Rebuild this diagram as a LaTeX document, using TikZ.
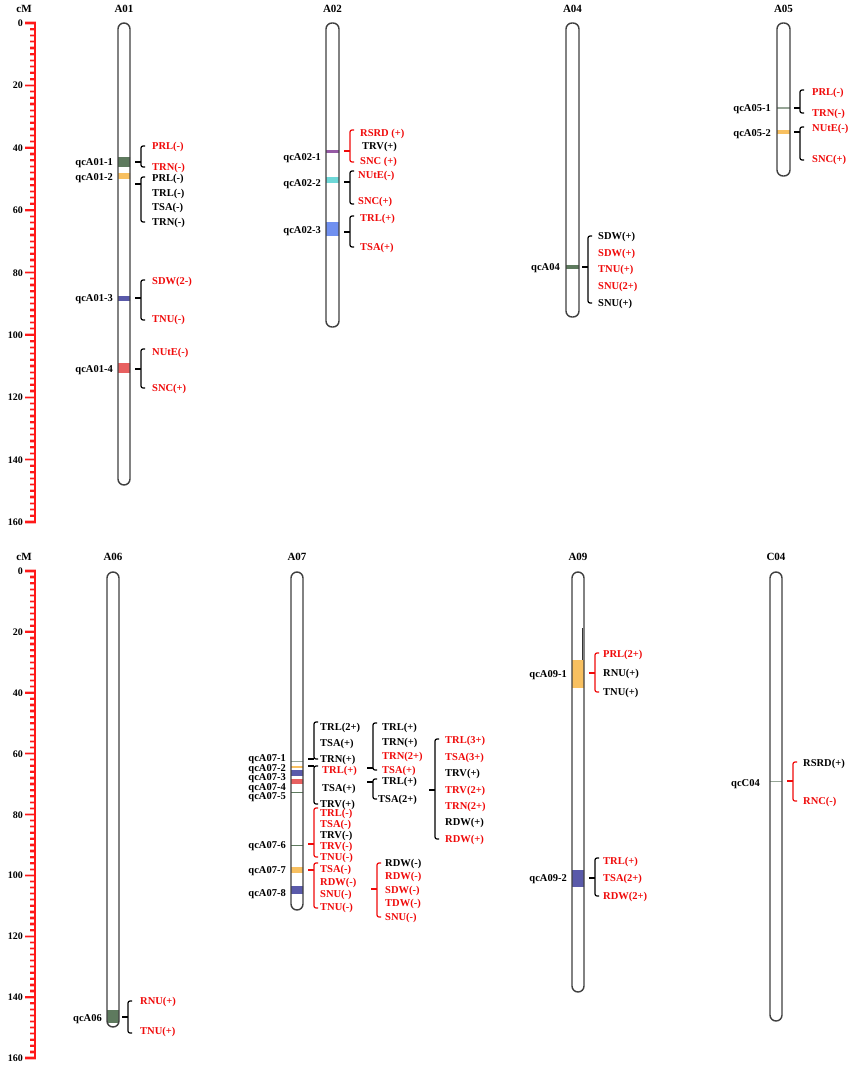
\documentclass[tikz,border=0pt]{standalone}
\usepackage{fontspec}
\setmainfont{Liberation Serif}
\usetikzlibrary{calc}
\definecolor{qred}{RGB}{240,10,10}
\definecolor{bgreen}{RGB}{94,122,94}
\definecolor{borange}{RGB}{248,192,96}
\definecolor{bblue}{RGB}{90,90,170}
\definecolor{bred}{RGB}{232,96,96}
\definecolor{bpurple}{RGB}{150,90,165}
\definecolor{bcyan}{RGB}{110,216,216}
\definecolor{blblue}{RGB}{112,144,240}
\definecolor{bgray}{RGB}{150,165,150}
\tikzset{
  lbl/.style={font=\bfseries\fontsize{10.5}{12}\selectfont, inner sep=0pt, text height=7pt, text depth=0pt},
  qlbl/.style={lbl, anchor=east},
  tlbl/.style={lbl, anchor=west},
  ttl/.style={font=\bfseries\fontsize{11}{13}\selectfont, inner sep=0pt},
  chromline/.style={draw=black!75, line width=1.4pt, rounded corners=6pt},
  brkline/.style={line width=1.2pt, rounded corners=2pt},
  rulerline/.style={draw=red!90, line width=1.6pt},
  tickhalo/.style={draw=red!30, line width=3.2pt},
  tickline/.style={draw=red!90, line width=1.5pt},
}
\newcommand\ruler[3]{% tag, ytop, ybottom
  \pgfmathsetmacro\rstep{(#3-#2)/80}%
  \foreach \i in {0,...,80}{%
    \pgfmathsetmacro\yy{#2+\i*\rstep}%
    \pgfmathtruncatemacro\mm{mod(\i,10)}%
    \ifnum\mm=0
      \draw[tickhalo] (25,\yy) -- (36,\yy);
      \draw[tickline] (25,\yy) -- (36,\yy);
      \pgfmathtruncatemacro\labv{\i*2}%
      \node[anchor=east, font=\bfseries\fontsize{10}{12}\selectfont, inner sep=0pt, text height=7pt, text depth=0pt] (r#1\i) at (23,\yy) {\labv};
    \else
      \draw[tickhalo] (30,\yy) -- (35.5,\yy);
      \draw[tickline] (30,\yy) -- (35.5,\yy);
    \fi
  }%
  \draw[rulerline] (35,#2) -- (35,#3);
}
\newcommand\chromo[5]{% xl, xr, yt, yb, bands
  \begin{scope}
    \clip[rounded corners=6pt] (#1,#3) rectangle (#2,#4);
    \fill[white] (#1,#3) rectangle (#2,#4);
    #5
  \end{scope}
  \draw[chromline] (#1,#3) rectangle (#2,#4);
}
\newcommand\brk[5]{% color, x, y1, y2, ytip
  \draw[brkline,#1] ({#2+4},#3) -- (#2,#3) -- (#2,#4) -- ({#2+4},#4);
  \draw[brkline,#1] ({#2-6},#5) -- (#2,#5);
}
\begin{document}
\begin{tikzpicture}[x=1pt,y=-1pt]
\useasboundingbox (0,0) rectangle (856,1070);
\fill[white] (0,0) rectangle (856,1070);

% rulers
\node[ttl] (cm1) at (24,9) {cM};
\ruler{t}{23}{522}
\node[ttl] (cm2) at (24,557) {cM};
\ruler{b}{571}{1058}

% ===== A01 =====
\node[ttl] (tA01) at (124,9) {A01};
\chromo{118}{130}{23}{485}{%
  \fill[bgreen] (116,157) rectangle (132,167);
  \fill[borange] (116,173) rectangle (132,179);
  \fill[bblue] (116,296) rectangle (132,300.5);
  \fill[bred] (116,363) rectangle (132,373);
}
\node[qlbl] (q011) at (113,162) {qcA01-1};
\node[qlbl] (q012) at (113,177) {qcA01-2};
\node[qlbl] (q013) at (113,298) {qcA01-3};
\node[qlbl] (q014) at (113,369) {qcA01-4};
\brk{black}{141}{146}{167}{162}
\node[tlbl,text=qred] (a1a) at (152,146) {PRL(-)};
\node[tlbl,text=qred] (a1b) at (152,167) {TRN(-)};
\brk{black}{141}{177}{222}{184}
\node[tlbl] (a1c) at (152,178) {PRL(-)};
\node[tlbl] (a1d) at (152,193) {TRL(-)};
\node[tlbl] (a1e) at (152,207) {TSA(-)};
\node[tlbl] (a1f) at (152,222) {TRN(-)};
\brk{black}{141}{280}{320}{298}
\node[tlbl,text=qred] (a1g) at (152,281) {SDW(2-)};
\node[tlbl,text=qred] (a1h) at (152,319) {TNU(-)};
\brk{black}{141}{349}{388}{369}
\node[tlbl,text=qred] (a1i) at (152,352) {NUtE(-)};
\node[tlbl,text=qred] (a1j) at (152,388) {SNC(+)};

% ===== A02 =====
\node[ttl] (tA02) at (332.5,9) {A02};
\chromo{326}{339}{23}{327}{%
  \fill[bpurple] (324,149.5) rectangle (341,152.5);
  \fill[bcyan] (324,177) rectangle (341,183);
  \fill[blblue] (324,222) rectangle (341,236);
}
\node[qlbl] (q021) at (321,157) {qcA02-1};
\node[qlbl] (q022) at (321,183) {qcA02-2};
\node[qlbl] (q023) at (321,230) {qcA02-3};
\brk{qred}{350}{130}{162}{151}
\node[tlbl,text=qred] (a2a) at (360,133) {RSRD (+)};
\node[tlbl] (a2b) at (362,146) {TRV(+)};
\node[tlbl,text=qred] (a2c) at (360,161) {SNC (+)};
\brk{black}{350}{171}{204}{182}
\node[tlbl,text=qred] (a2d) at (358,175) {NUtE(-)};
\node[tlbl,text=qred] (a2e) at (358,201) {SNC(+)};
\brk{black}{350}{216}{247}{232}
\node[tlbl,text=qred] (a2f) at (360,218) {TRL(+)};
\node[tlbl,text=qred] (a2g) at (360,247) {TSA(+)};

% ===== A04 =====
\node[ttl] (tA04) at (572.5,9) {A04};
\chromo{566}{579}{23}{317}{%
  \fill[bgreen] (564,265) rectangle (581,268.5);
}
\node[qlbl] (q04) at (560,267) {qcA04};
\brk{black}{588}{236}{303}{267}
\node[tlbl] (a4a) at (598,236) {SDW(+)};
\node[tlbl,text=qred] (a4b) at (598,253) {SDW(+)};
\node[tlbl,text=qred] (a4c) at (598,269) {TNU(+)};
\node[tlbl,text=qred] (a4d) at (598,286) {SNU(2+)};
\node[tlbl] (a4e) at (598,303) {SNU(+)};

% ===== A05 =====
\node[ttl] (tA05) at (783.5,9) {A05};
\chromo{777}{790}{23}{176}{%
  \fill[bgray] (775,107.3) rectangle (792,108.7);
  \fill[borange] (775,130) rectangle (792,134);
}
\node[qlbl] (q051) at (771,108) {qcA05-1};
\node[qlbl] (q052) at (771,133) {qcA05-2};
\brk{black}{800}{90}{113}{108}
\node[tlbl,text=qred] (a5a) at (812,92) {PRL(-)};
\node[tlbl,text=qred] (a5b) at (812,113) {TRN(-)};
\brk{black}{800}{127}{160}{132}
\node[tlbl,text=qred] (a5c) at (812,128) {NUtE(-)};
\node[tlbl,text=qred] (a5d) at (812,159) {SNC(+)};

% ===== A06 =====
\node[ttl] (tA06) at (113,557) {A06};
\chromo{107}{119}{572}{1027}{%
  \fill[bgreen] (105,1010) rectangle (121,1023);
}
\node[qlbl] (q06) at (102,1018) {qcA06};
\brk{black}{128}{1001}{1033}{1017}
\node[tlbl,text=qred] (a6a) at (140,1001) {RNU(+)};
\node[tlbl,text=qred] (a6b) at (140,1031) {TNU(+)};

% ===== A07 =====
\node[ttl] (tA07) at (297,557) {A07};
\chromo{291}{303}{572}{910}{%
  \fill[bgray] (289,760.5) rectangle (305,761.7);
  \fill[borange] (289,765.8) rectangle (305,768);
  \fill[bblue] (289,770) rectangle (305,775.5);
  \fill[bred] (289,779) rectangle (305,783.5);
  \fill[bgreen] (289,791.5) rectangle (305,793.2);
  \fill[bgreen] (289,844.5) rectangle (305,846.2);
  \fill[borange] (289,867) rectangle (305,873);
  \fill[bblue] (289,886) rectangle (305,894);
}
\node[qlbl] (q071) at (286,758) {qcA07-1};
\node[qlbl] (q072) at (286,767.5) {qcA07-2};
\node[qlbl] (q073) at (286,777) {qcA07-3};
\node[qlbl] (q074) at (286,786.5) {qcA07-4};
\node[qlbl] (q075) at (286,796) {qcA07-5};
\node[qlbl] (q076) at (286,845) {qcA07-6};
\node[qlbl] (q077) at (286,870) {qcA07-7};
\node[qlbl] (q078) at (286,893) {qcA07-8};
% column 1
\brk{black}{314}{722}{759}{759}
\node[tlbl] (c1a) at (320,727) {TRL(2+)};
\node[tlbl] (c1b) at (320,743) {TSA(+)};
\node[tlbl] (c1c) at (320,759) {TRN(+)};
\brk{black}{314}{766}{804}{766}
\node[tlbl,text=qred] (c2a) at (322,770) {TRL(+)};
\node[tlbl] (c2b) at (322,788) {TSA(+)};
\node[tlbl] (c2c) at (320,804) {TRV(+)};
\brk{qred}{314}{808}{857}{844}
\node[tlbl,text=qred] (c3a) at (320,813) {TRL(-)};
\node[tlbl,text=qred] (c3b) at (320,824) {TSA(-)};
\node[tlbl] (c3c) at (320,835) {TRV(-)};
\node[tlbl,text=qred] (c3d) at (320,846) {TRV(-)};
\node[tlbl,text=qred] (c3e) at (320,857) {TNU(-)};
\brk{qred}{314}{863}{908}{870}
\node[tlbl,text=qred] (c4a) at (320,869) {TSA(-)};
\node[tlbl,text=qred] (c4b) at (320,882) {RDW(-)};
\node[tlbl,text=qred] (c4c) at (320,894) {SNU(-)};
\node[tlbl,text=qred] (c4d) at (320,907) {TNU(-)};
% column 2
\brk{black}{373}{723}{770}{768}
\node[tlbl] (c5a) at (382,727) {TRL(+)};
\node[tlbl] (c5b) at (382,742) {TRN(+)};
\node[tlbl,text=qred] (c5c) at (382,756) {TRN(2+)};
\node[tlbl,text=qred] (c5d) at (382,770) {TSA(+)};
\brk{black}{373}{779}{799}{782}
\node[tlbl] (c6a) at (382,781) {TRL(+)};
\node[tlbl] (c6b) at (378,799) {TSA(2+)};
\brk{qred}{377}{863}{917}{889}
\node[tlbl] (c7a) at (385,863) {RDW(-)};
\node[tlbl,text=qred] (c7b) at (385,876) {RDW(-)};
\node[tlbl,text=qred] (c7c) at (385,890) {SDW(-)};
\node[tlbl,text=qred] (c7d) at (385,903) {TDW(-)};
\node[tlbl,text=qred] (c7e) at (385,917) {SNU(-)};
% column 3
\brk{black}{435}{739}{839}{790}
\node[tlbl,text=qred] (c8a) at (445,740) {TRL(3+)};
\node[tlbl,text=qred] (c8b) at (445,757) {TSA(3+)};
\node[tlbl] (c8c) at (445,773) {TRV(+)};
\node[tlbl,text=qred] (c8d) at (445,790) {TRV(2+)};
\node[tlbl,text=qred] (c8e) at (445,806) {TRN(2+)};
\node[tlbl] (c8f) at (445,822) {RDW(+)};
\node[tlbl,text=qred] (c8g) at (445,839) {RDW(+)};

% ===== A09 =====
\node[ttl] (tA09) at (578,557) {A09};
\chromo{572}{584}{572}{992}{%
  \fill[borange] (570,660) rectangle (586,688);
  \fill[bblue] (570,870) rectangle (586,887);
  \draw[black!80, line width=0.8pt] (582.3,628) -- (582.3,660);
}
\node[qlbl] (q091) at (567,674) {qcA09-1};
\node[qlbl] (q092) at (567,878) {qcA09-2};
\brk{qred}{595}{653}{692}{673}
\node[tlbl,text=qred] (a9a) at (603,654) {PRL(2+)};
\node[tlbl] (a9b) at (603,673) {RNU(+)};
\node[tlbl] (a9c) at (603,692) {TNU(+)};
\brk{black}{595}{858}{896}{878}
\node[tlbl,text=qred] (a9d) at (603,861) {TRL(+)};
\node[tlbl,text=qred] (a9e) at (603,878) {TSA(2+)};
\node[tlbl,text=qred] (a9f) at (603,896) {RDW(2+)};

% ===== C04 =====
\node[ttl] (tC04) at (776,557) {C04};
\chromo{770}{782}{572}{1021}{%
  \fill[bgray] (768,780.5) rectangle (784,782);
}
\node[qlbl] (qc04) at (760,783) {qcC04};
\brk{qred}{793}{762}{801}{781}
\node[tlbl] (c04a) at (803,763) {RSRD(+)};
\node[tlbl,text=qred] (c04b) at (803,801) {RNC(-)};
\end{tikzpicture}
\end{document}
